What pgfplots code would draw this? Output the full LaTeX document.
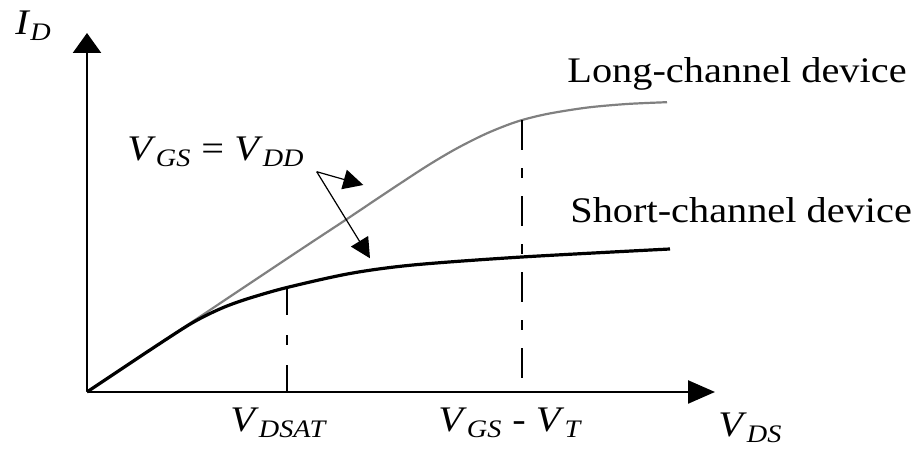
\documentclass[border=0pt]{standalone}
\usepackage{fontspec}
\setmainfont{Liberation Serif}[FakeStretch=1.12]
\usepackage{graphicx}
\usepackage{pgfplots}
\pgfplotsset{compat=1.18}
\usetikzlibrary{arrows.meta}

% drain-current curves: x and y in drawing units (1 unit = 0.5pt)
\pgfplotstableread{
x     y
0     0
60    40
120   80
213   142
260   173
300   199.8
340   226
370   243.7
400   258.7
430   270.4
460   278
500   284.4
540   288
580   289.8
}\longchannel

\pgfplotstableread{
x     y
0     0
60    40
100   66
120   77
140   86
163   94
200   104.5
263   118.5
326   127
435   135
583   143
}\shortchannel

\newcommand{\sub}[2]{\textit{#1}\textsubscript{\textit{#2}}}

\begin{document}
\begin{tikzpicture}[lbl/.style={anchor=base west, inner sep=0pt, font=\fontsize{18}{21}\selectfont}]
\useasboundingbox (-43.5pt,-30.5pt) rectangle (417pt,196pt);
\begin{axis}[
  at={(0,0)}, anchor=south west,
  scale only axis,
  width=314pt, height=179.5pt,
  xmin=0, xmax=628, ymin=0, ymax=359,
  enlargelimits=false,
  axis lines=left,
  xtick=\empty, ytick=\empty,
  x axis line style={line width=1.2pt, -{Triangle[length=13.5pt,width=11.5pt]}},
  y axis line style={line width=1.2pt, -{Triangle[length=10pt,width=14pt]}},
  clip=false,
]
% long-channel characteristic
\addplot[black!50, line width=1.1pt, smooth] table {\longchannel};
% short-channel characteristic
\addplot[black, line width=1.6pt, smooth] table {\shortchannel};

% saturation markers
\addplot[black, line width=1pt, dash pattern=on 14pt off 10pt on 5pt off 10pt]
  coordinates {(200,104.5) (200,0)};
\addplot[black, line width=1pt, dash pattern=on 15pt off 9pt on 5pt off 9pt]
  coordinates {(435,271.5) (435,0)};

% annotation arrows
\draw[line width=0.6pt, -{Triangle[length=10pt,width=10pt]}]
  (axis cs:229.7,220.3) -- (axis cs:276.3,207);
\draw[line width=0.6pt, -{Triangle[length=10pt,width=10pt]}]
  (axis cs:229.7,220.3) -- (axis cs:283,133.7);

% labels
\node[lbl] at (axis cs:-72,357) {\sub{I}{D}};
\node[lbl] at (axis cs:631,-45) {\sub{V}{DS}};
\node[lbl] at (axis cs:143,-40) {\sub{V}{DSAT}};
\node[lbl] at (axis cs:351,-40) {\sub{V}{GS} - \sub{V}{T}};
\node[lbl] at (axis cs:40,231) {\sub{V}{GS} = \sub{V}{DD}};
\node[lbl] at (axis cs:480,309) {Long-channel device};
\node[lbl] at (axis cs:483,169) {Short-channel device};
\end{axis}
\end{tikzpicture}
\end{document}
